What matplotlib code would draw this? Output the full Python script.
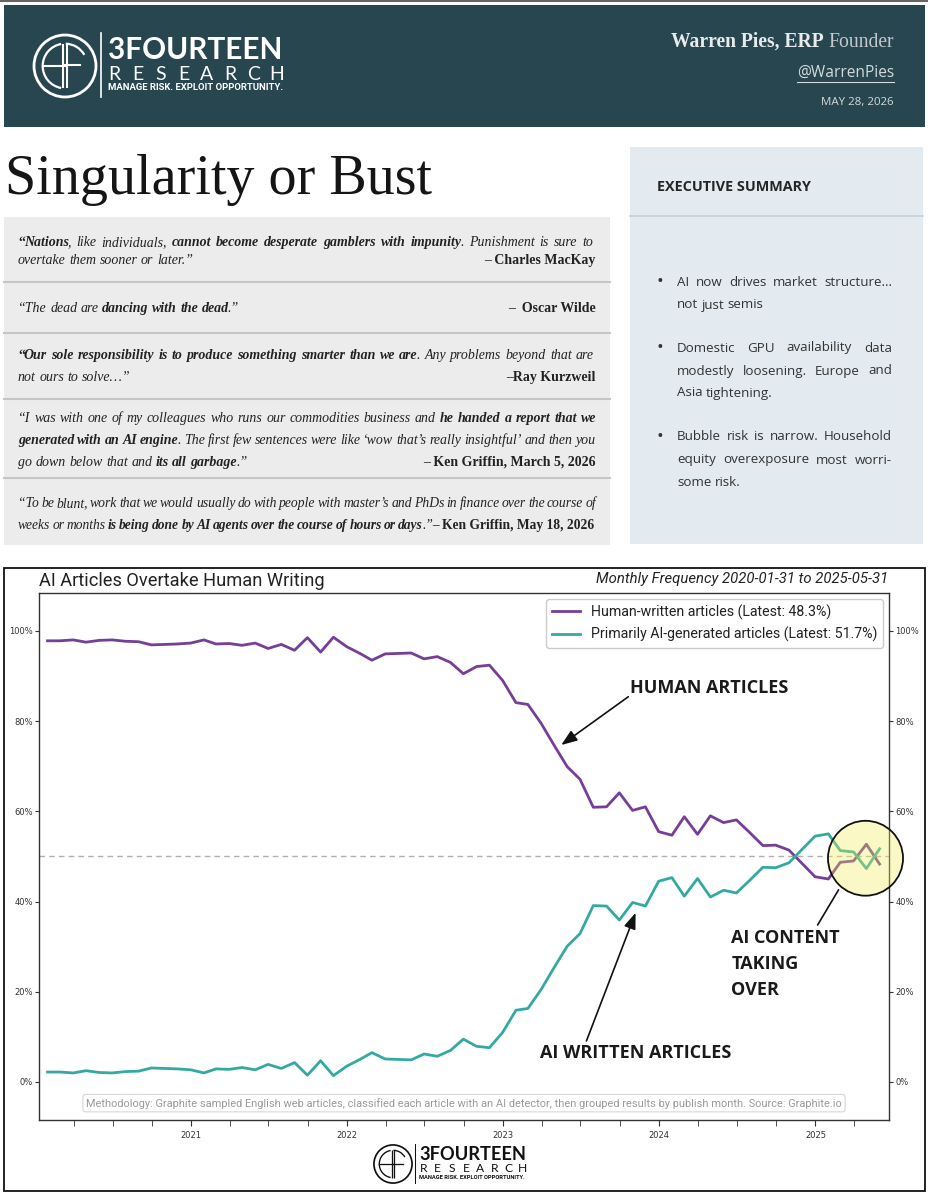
import pandas as pd
import matplotlib
matplotlib.use('Agg')
import matplotlib.pyplot as plt
import matplotlib.dates as mdates
from matplotlib.patches import Rectangle, Circle, Ellipse, Arc
from matplotlib.ticker import MultipleLocator, FuncFormatter

# ---- data ----
dates = pd.date_range('2020-01-31', '2025-05-31', freq='ME')
human = [97.8, 97.8, 98.0, 97.5, 97.9, 98.0, 97.7, 97.6, 96.9, 97.0,
         97.1, 97.3, 98.0, 97.1, 97.2, 96.8, 97.3, 96.1, 97.0, 95.7,
         98.5, 95.3, 98.6, 96.5, 95.0, 93.5, 94.9, 95.0, 95.1, 93.8,
         94.3, 93.0, 90.5, 92.1, 92.4, 89.0, 84.1, 83.7, 79.5, 74.7,
         69.9, 67.1, 60.9, 61.0, 64.1, 60.2, 61.0, 55.5, 54.7, 58.8,
         54.9, 59.0, 57.5, 58.1, 55.3, 52.4, 52.5, 51.4, 48.5, 45.5,
         45.0, 48.7, 49.0, 52.7, 48.3]
ai = [2.2, 2.2, 2.0, 2.5, 2.1, 2.0, 2.3, 2.4, 3.1, 3.0,
      2.9, 2.7, 2.0, 2.9, 2.8, 3.2, 2.7, 3.9, 3.0, 4.3,
      1.5, 4.7, 1.4, 3.5, 5.0, 6.5, 5.1, 5.0, 4.9, 6.2,
      5.7, 7.0, 9.5, 7.9, 7.6, 11.0, 15.9, 16.3, 20.5, 25.3,
      30.1, 32.9, 39.1, 39.0, 35.9, 39.8, 39.0, 44.5, 45.3, 41.2,
      45.1, 41.0, 42.5, 41.9, 44.7, 47.6, 47.5, 48.6, 51.5, 54.5,
      55.0, 51.3, 51.0, 47.3, 51.7]
year_ticks = ['2021', '2022', '2023', '2024', '2025']

NB = '\u00a0'  # keeps an attribution together as one word when justifying
quotes = [
    [([('\u201c', 'b'), ('Nations', 'bi'), (', like individuals, ', 'i'),
       ('cannot become desperate gamblers with impunity', 'bi'), ('. Punishment is sure to', 'i')], True, None),
     ([('overtake them sooner or later.\u201d', 'i')], False, '\u2013 Charles MacKay')],
    [([('\u201cThe dead are ', 'i'), ('dancing with the dead', 'bi'), ('.\u201d', 'i')], False, '\u2013  Oscar Wilde')],
    [([('\u201c', 'b'), ('Our sole responsibility is to produce something smarter than we are', 'bi'),
       ('. Any problems beyond that are', 'i')], True, None),
     ([('not ours to solve\u2026\u201d', 'i')], False, '\u2013Ray Kurzweil')],
    [([('\u201cI was with one of my colleagues who runs our commodities business and ', 'i'),
       ('he handed a report that we', 'bi')], True, None),
     ([('generated with an AI engine', 'bi'),
       ('. The first few sentences were like \u2018wow that\u2019s really insightful\u2019 and then you', 'i')], True, None),
     ([('go down below that and ', 'i'), ('its all garbage', 'bi'), ('.\u201d', 'i')], False,
      '\u2013 Ken Griffin, March 5, 2026')],
    [([('\u201cTo be blunt, work that we would usually do with people with master\u2019s and PhDs in finance over the course of', 'i')], True, None),
     ([('weeks or months ', 'i'), ('is being done by AI agents over the course of hours or days', 'bi'),
       ('.\u201d', 'i'), (NB.join(['\u2013', 'Ken', 'Griffin,', 'May', '18,', '2026']), 'b')], True, None)],
]
quote_baselines = [[246, 264], [312], [359, 381], [422, 444, 466], [507, 529]]
quote_seps = [282, 333, 399, 478]

summary = [
    [("AI now drives market structure...", True), ("not just semis", False)],
    [("Domestic GPU availability data", True), ("modestly loosening. Europe and", True), ("Asia tightening.", False)],
    [("Bubble risk is narrow. Household", True), ("equity overexposure most worri-", True), ("some risk.", False)],
]
summary_centers = [[281, 304], [347, 370, 392], [436, 459, 482]]

PURPLE = '#763e96'
TEAL = '#33aaa1'
SERIF = 'Liberation Serif'
SANS = 'Open Sans'
CHART = 'Roboto'
STY = {'i': dict(style='italic'), 'bi': dict(style='italic', weight='bold'),
       'b': dict(weight='bold'), 'r': {}}

fig = plt.figure(figsize=(9.29, 12), dpi=100)
bg = fig.add_axes([0, 0, 1, 1])
bg.set_xlim(0, 929)
bg.set_ylim(1200, 0)
bg.axis('off')
renderer = fig.canvas.get_renderer()


def wid(t):
    return t.get_window_extent(renderer).width


def fit_text(x, y, s, width, **kw):
    t = bg.text(x, y, s, fontsize=10, **kw)
    t.set_fontsize(10 * width / wid(t))
    return t


def rich_line(x0, x1, y, segs, size, justify, family, color):
    # split styled segments into words, then spread words between x0 and x1
    words, cur = [], []
    for txt, st in segs:
        for c in txt:
            if c == ' ':
                if cur:
                    words.append(cur)
                    cur = []
            elif cur and cur[-1][1] == st:
                cur[-1][0] += c
            else:
                cur.append([c, st])
    if cur:
        words.append(cur)
    items = []
    for w in words:
        items.append([bg.text(0, y, txt, fontsize=size, family=family, color=color,
                              va='baseline', ha='left', **STY[st]) for txt, st in w])
    n = len(items)
    space = size * 1.389 * 0.25
    total = sum(wid(t) for runs in items for t in runs)
    if justify and n > 1 and total + 0.6 * space * (n - 1) > x1 - x0:
        f = (x1 - x0 - 0.6 * space * (n - 1)) / total
        for runs in items:
            for t in runs:
                t.set_fontsize(size * f)
        total = sum(wid(t) for runs in items for t in runs)
    gap = space
    if justify and n > 1:
        gap = (x1 - x0 - total) / (n - 1)
    x = x0
    for runs in items:
        for j, t in enumerate(runs):
            if j:
                x -= 1.0
            t.set_x(x)
            x += wid(t)
        x += gap


def draw_logo(cx, cy, k, color):
    R = 31 * k
    bg.add_patch(Circle((cx, cy), R, fill=False, ec=color, lw=2.0 * k))
    r = 0.72 * R
    for dx in (-0.07 * R, 0.07 * R):
        bg.plot([cx + dx, cx + dx], [cy - r, cy + r], color=color, lw=1.5 * k, solid_capstyle='butt')
    bg.add_patch(Arc((cx, cy), 2 * r, 2 * r, theta1=100, theta2=260, ec=color, lw=1.6 * k))
    bg.add_patch(Arc((cx, cy), 2 * r, 2 * r, theta1=272, theta2=330, ec=color, lw=1.6 * k))
    bg.plot([cx - r, cx], [cy, cy], color=color, lw=1.5 * k)
    bg.plot([cx, cx + 0.5 * R], [cy - 0.02 * R, cy - 0.02 * R], color=color, lw=1.5 * k)
    bg.plot([cx + 36 * k] * 2, [cy - 33 * k, cy + 31 * k], color=color, lw=1.2 * k)
    x0 = cx + 43 * k
    fit_text(x0, cy - 16 * k, '3FOURTEEN', 174 * k, family='Lato', weight='bold',
             color=color, va='center', ha='left')
    for i, ch in enumerate('RESEARCH'):
        bg.text(x0 + 6.5 * k + i * 23.1 * k, cy + 8 * k, ch, fontsize=14 * k, family='Lato',
                color=color, ha='center', va='center')
    fit_text(x0, cy + 22 * k, 'MANAGE RISK. EXPLOIT OPPORTUNITY.', 174 * k, family=CHART,
             weight='bold', color=color, va='center', ha='left')


# ---- header band ----
bg.plot([0, 929], [1, 1], color='#666666', lw=1.5)
bg.add_patch(Rectangle((4, 5), 921, 122, fc='#274650', ec='none'))
draw_logo(65, 66, 1.0, 'white')

t1 = bg.text(0, 47, 'Warren Pies, ERP', fontsize=10, family=SERIF, weight='bold', color='#e8eaeb', ha='right', va='baseline')
t2 = bg.text(894, 47, 'Founder', fontsize=10, family=SERIF, color='#c3c9cc', ha='right', va='baseline')
sp = 10 * 1.389 * 0.25
scale = 224 / (wid(t1) + wid(t2) + sp)
t1.set_fontsize(10 * scale)
t2.set_fontsize(10 * scale)
t1.set_x(894 - wid(t2) - sp * scale)
fit_text(894, 73, '@WarrenPies', 97, family=SANS, color='#d5dadc', ha='right', va='center')
bg.plot([797, 894], [82, 82], color='#d5dadc', lw=0.8)
fit_text(894, 102, 'MAY 28, 2026', 72, family=SANS, color='#d5dadc', ha='right', va='center')

# ---- title ----
fit_text(5, 194, 'Singularity or Bust', 427, family=SERIF, color='#151515', ha='left', va='baseline')

# ---- quote box ----
bg.add_patch(Rectangle((4, 217), 606, 328, fc='#ececec', ec='none'))
for y in quote_seps:
    bg.plot([4, 610], [y, y], color='#c6c6c6', lw=1.5)
for q, bls in zip(quotes, quote_baselines):
    for (segs, just, attrib), yb in zip(q, bls):
        rich_line(18, 596, yb, segs, 10, just, SERIF, '#222222')
        if attrib:
            bg.text(596, yb, attrib, fontsize=10, family=SERIF, weight='bold',
                    color='#222222', ha='right', va='baseline')

# ---- executive summary ----
bg.add_patch(Rectangle((630, 147), 293, 397, fc='#e3eaf0', ec='none'))
bg.plot([630, 923], [216, 216], color='#c8d0d8', lw=1.2)
fit_text(657, 187, 'EXECUTIVE SUMMARY', 154, family=SANS, weight='bold',
         color='#252525', ha='left', va='center')
for item, cys in zip(summary, summary_centers):
    bg.text(660, cys[0] + 1, '\u2022', fontsize=13, family=SANS, color='#333333', ha='center', va='center')
    for (line, just), cy in zip(item, cys):
        rich_line(677, 892, cy + 4.5, [(line, 'r')], 9.6, just, SANS, '#333333')

# ---- chart frame and titles ----
bg.add_patch(Rectangle((4, 568), 921, 623, fill=False, ec='#111111', lw=1.3))
fit_text(39, 581, 'AI Articles Overtake Human Writing', 285, family=CHART, color='#222222',
         ha='left', va='center')
fit_text(888, 579, 'Monthly Frequency 2020-01-31 to 2025-05-31', 291, family=CHART,
         style='italic', color='#222222', ha='right', va='center')
draw_logo(393, 1164, 0.615, '#111111')

# ---- chart ----
ax = fig.add_axes([39 / 929, 80 / 1200, 850 / 929, 527 / 1200])
ax.plot(dates, human, color=PURPLE, lw=2.0,
        label=f'Human-written articles (Latest: {human[-1]:.1f}%)')
ax.plot(dates, ai, color=TEAL, lw=2.0,
        label=f'Primarily AI-generated articles (Latest: {ai[-1]:.1f}%)')
ax.axhline(50, color='#b0b0b0', lw=1.0, ls=(0, (4, 3)), zorder=1)
ax.set_ylim(-8.43, 108.4)
ax.set_xlim(pd.Timestamp('2020-01-11'), pd.Timestamp('2025-06-22'))
ax.yaxis.set_major_locator(MultipleLocator(20))
ax.yaxis.set_major_formatter(FuncFormatter(lambda v, p: f'{v:.0f}%'))
ax.tick_params(axis='y', left=True, right=True, labelleft=True, labelright=True,
               labelsize=6, length=3, pad=1.5, colors='#333333')
ax.set_xticks([pd.Timestamp(y + '-01-01') for y in year_ticks])
ax.set_xticklabels(year_ticks)
ax.xaxis.set_minor_locator(mdates.MonthLocator(bymonth=[4, 7, 10]))
ax.tick_params(axis='x', which='both', length=4, labelsize=6, pad=4, colors='#333333')
for s in ax.spines.values():
    s.set_color('#333333')
    s.set_linewidth(1.0)

leg = ax.legend(loc='upper right', prop={'family': CHART, 'size': 10.2}, frameon=True,
                edgecolor='#cccccc', framealpha=1, borderaxespad=0.4, handlelength=2.0)
for t in leg.get_texts():
    t.set_color('#222222')

d2n = lambda s: mdates.date2num(pd.Timestamp(s))
ann = dict(fontsize=13, family=SANS, weight='bold', color='#1a1a1a', ha='left', va='center')
arrow = dict(arrowstyle='-|>,head_length=0.8,head_width=0.3', color='#111111', lw=1.2,
             mutation_scale=12, shrinkA=0, shrinkB=0)
ax.text(d2n('2023-10-26'), 87.4, 'HUMAN ARTICLES', **ann)
ax.annotate('', xy=(d2n('2023-05-17'), 74.7), xytext=(d2n('2023-10-21'), 85.4), arrowprops=arrow)
ax.text(d2n('2023-03-29'), 6.4, 'AI WRITTEN ARTICLES', **ann)
ax.annotate('', xy=(d2n('2023-11-07'), 37.5), xytext=(d2n('2023-07-15'), 9.1), arrowprops=arrow)
for line, yv in zip(['AI CONTENT', 'TAKING', 'OVER'], [31.9, 26.2, 20.4]):
    ax.text(d2n('2024-06-18'), yv, line, **ann)
ax.annotate('', xy=(d2n('2025-02-24'), 42.6), xytext=(d2n('2025-01-06'), 34.8),
            arrowprops=dict(arrowstyle='-', color='#111111', lw=1.2, shrinkA=0, shrinkB=0))
ax.add_patch(Ellipse((d2n('2025-04-28'), 49.6), 175.6, 16.6, fc=(0.95, 0.93, 0.35, 0.35),
                     ec='#111111', lw=1.3, zorder=5, clip_on=False))

ax.text(0.5, 0.032, 'Methodology: Graphite sampled English web articles, classified each article with an AI '
        'detector, then grouped results by publish month. Source: Graphite.io',
        transform=ax.transAxes, ha='center', va='center', fontsize=7.9, family=CHART, color='#9a9a9a',
        bbox=dict(boxstyle='round,pad=0.3', fc='white', ec='#d6d6d6', lw=0.8))

fig.savefig('out.png', dpi=100)
